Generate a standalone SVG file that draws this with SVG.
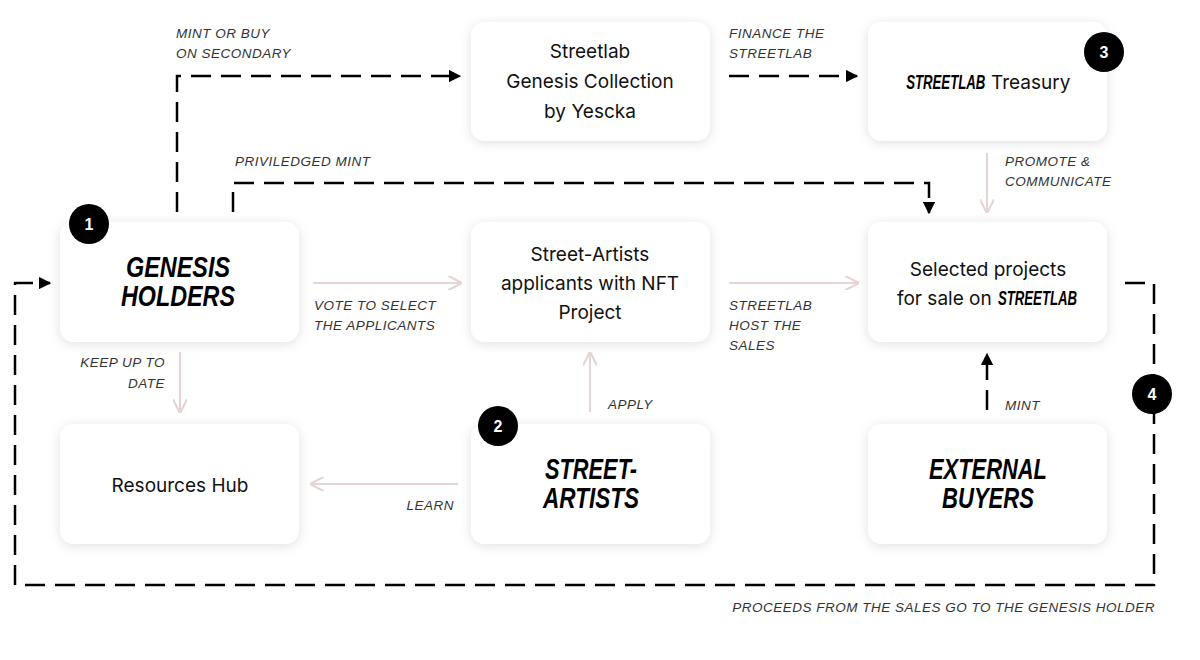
<svg xmlns="http://www.w3.org/2000/svg" width="1200" height="660" viewBox="0 0 1200 660">
<style>
.box{fill:#fff;filter:url(#sh)}
.t{font-family:Inter,"Liberation Sans",sans-serif;font-size:19px;fill:#111;text-anchor:middle}
.ts{text-anchor:start}
.b{font-family:"Liberation Sans",sans-serif;font-weight:bold;font-style:italic;fill:#000}
.lbl{font-family:"Liberation Sans",sans-serif;font-style:italic;font-size:13.5px;fill:#333;letter-spacing:0.5px}
.dash{fill:none;stroke:#000;stroke-width:2.5;stroke-dasharray:20 10}
.pink{fill:none;stroke:#e6d3d3;stroke-width:2}
.badge{fill:#000}
.bn{font-family:"Liberation Sans",sans-serif;font-weight:bold;font-size:16px;fill:#fff;text-anchor:middle}
</style>
<defs>
<filter id="sh" x="-20%" y="-20%" width="140%" height="140%"><feDropShadow dx="0" dy="2" stdDeviation="6" flood-color="#000" flood-opacity="0.12"/></filter>
<marker id="ab" viewBox="0 0 10 10" refX="9" refY="5" markerWidth="5" markerHeight="5" orient="auto"><path d="M0,0L10,5L0,10z" fill="#000"/></marker>
<marker id="ap" viewBox="0 0 10 10" refX="9" refY="5" markerWidth="7" markerHeight="7" orient="auto"><path d="M0,0L10,5L0,10" fill="none" stroke="#e6d3d3" stroke-width="1.5"/></marker>
</defs>
<rect width="1200" height="660" fill="#fff"/>
<g id="connectors">
<path class="dash" d="M177,212V76H460" marker-end="url(#ab)"/>
<path class="dash" d="M729,76H857" marker-end="url(#ab)"/>
<path class="dash" d="M233,212V183H929V213" marker-end="url(#ab)"/>
<path class="pink" d="M987,153V212" marker-end="url(#ap)"/>
<path class="pink" d="M313,283H461" marker-end="url(#ap)"/>
<path class="pink" d="M729,283H858" marker-end="url(#ap)"/>
<path class="pink" d="M590,412V353" marker-end="url(#ap)"/>
<path class="dash" d="M987,410V354" marker-end="url(#ab)"/>
<path class="pink" d="M180,352V412" marker-end="url(#ap)"/>
<path class="pink" d="M458,484H311" marker-end="url(#ap)"/>
<path class="dash" d="M1125,283H1154V585H15V283H50" marker-end="url(#ab)"/>
<text class="lbl" x="176" y="38">MINT OR BUY</text>
<text class="lbl" x="176" y="58">ON SECONDARY</text>
<text class="lbl" x="729" y="38">FINANCE THE</text>
<text class="lbl" x="729" y="58">STREETLAB</text>
<text class="lbl" x="235" y="166">PRIVILEDGED MINT</text>
<text class="lbl" x="1005" y="166">PROMOTE &amp;</text>
<text class="lbl" x="1005" y="186">COMMUNICATE</text>
<text class="lbl" x="314" y="310">VOTE TO SELECT</text>
<text class="lbl" x="314" y="330">THE APPLICANTS</text>
<text class="lbl" x="729" y="310">STREETLAB</text>
<text class="lbl" x="729" y="330">HOST THE</text>
<text class="lbl" x="729" y="350">SALES</text>
<text class="lbl" x="165" y="367" text-anchor="end">KEEP UP TO</text>
<text class="lbl" x="165" y="388" text-anchor="end">DATE</text>
<text class="lbl" x="608" y="409">APPLY</text>
<text class="lbl" x="1005" y="410">MINT</text>
<text class="lbl" x="454" y="510" text-anchor="end">LEARN</text>
<text class="lbl" x="1155" y="612" text-anchor="end">PROCEEDS FROM THE SALES GO TO THE GENESIS HOLDER</text>
</g>
<g id="n-genesis-collection"><rect class="box" x="471" y="22" width="239" height="119" rx="14"/>
<text class="t" x="590" y="58">Streetlab</text><text class="t" x="590" y="88">Genesis Collection</text><text class="t" x="590" y="118">by Yescka</text></g>
<g id="n-treasury"><rect class="box" x="868" y="22" width="239" height="119" rx="14"/>
<text class="b" x="1373" y="89" font-size="20" transform="scale(0.66,1)">STREETLAB</text>
<text class="t ts" x="991" y="89">Treasury</text></g>
<g id="n-holders"><rect class="box" x="60" y="222" width="239" height="120" rx="14"/>
<text class="b" x="178" y="277" font-size="29" text-anchor="middle" textLength="104" lengthAdjust="spacingAndGlyphs">GENESIS</text>
<text class="b" x="178" y="306" font-size="29" text-anchor="middle" textLength="114" lengthAdjust="spacingAndGlyphs">HOLDERS</text></g>
<g id="n-applicants"><rect class="box" x="471" y="222" width="239" height="120" rx="14"/>
<text class="t" x="590" y="261">Street-Artists</text><text class="t" x="590" y="290">applicants with NFT</text><text class="t" x="590" y="319">Project</text></g>
<g id="n-selected"><rect class="box" x="868" y="222" width="239" height="120" rx="14"/>
<text class="t" x="988" y="276">Selected projects</text>
<text class="t ts" x="897" y="305">for sale on</text>
<text class="b" x="1512" y="305" font-size="20" transform="scale(0.66,1)">STREETLAB</text></g>
<g id="n-resources"><rect class="box" x="60" y="424" width="239" height="120" rx="14"/>
<text class="t" x="180" y="492">Resources Hub</text></g>
<g id="n-artists"><rect class="box" x="471" y="424" width="239" height="120" rx="14"/>
<text class="b" x="591" y="479" font-size="29" text-anchor="middle" textLength="92" lengthAdjust="spacingAndGlyphs">STREET-</text>
<text class="b" x="591" y="508" font-size="29" text-anchor="middle" textLength="96" lengthAdjust="spacingAndGlyphs">ARTISTS</text></g>
<g id="n-buyers"><rect class="box" x="868" y="424" width="239" height="120" rx="14"/>
<text class="b" x="988" y="479" font-size="29" text-anchor="middle" textLength="118" lengthAdjust="spacingAndGlyphs">EXTERNAL</text>
<text class="b" x="988" y="508" font-size="29" text-anchor="middle" textLength="92" lengthAdjust="spacingAndGlyphs">BUYERS</text></g>
<g id="badges">
<circle class="badge" cx="89" cy="224" r="20"/><text class="bn" x="89" y="230">1</text>
<circle class="badge" cx="498" cy="426" r="20"/><text class="bn" x="498" y="432">2</text>
<circle class="badge" cx="1104" cy="52" r="20"/><text class="bn" x="1104" y="58">3</text>
<circle class="badge" cx="1152" cy="394" r="20"/><text class="bn" x="1152" y="400">4</text>
</g>
</svg>
